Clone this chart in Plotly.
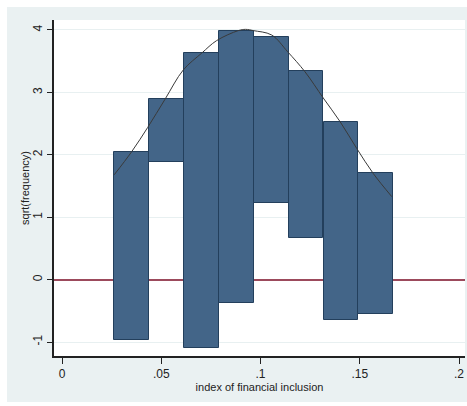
import plotly.graph_objects as go

# Hanging rootogram data
bin_mids = [0.0352, 0.0527, 0.0703, 0.0878, 0.1054, 0.1229, 0.1405, 0.1580]
bin_width = 0.01755
bar_top = [2.05, 2.89, 3.63, 3.99, 3.88, 3.35, 2.53, 1.71]
bar_bottom = [-0.97, 1.89, -1.10, -0.37, 1.22, 0.67, -0.64, -0.55]

curve_x = [0.0263, 0.0351, 0.0432, 0.0519, 0.0611, 0.0704, 0.0779, 0.0888,
           0.0925, 0.0964, 0.1056, 0.1137, 0.1224, 0.1316, 0.1401, 0.1485,
           0.1568, 0.1661]
curve_y = [1.68, 2.05, 2.44, 2.89, 3.36, 3.63, 3.83, 3.99,
           4.01, 3.99, 3.92, 3.65, 3.33, 2.91, 2.53, 2.10,
           1.70, 1.33]

x_ticks = [0, 0.05, 0.1, 0.15, 0.2]
x_labels = ["0", ".05", ".1", ".15", ".2"]
y_ticks = [-1, 0, 1, 2, 3, 4]
y_labels = ["-1", "0", "1", "2", "3", "4"]

fig = go.Figure()
fig.add_trace(go.Bar(
    x=bin_mids,
    y=[t - b for t, b in zip(bar_top, bar_bottom)],
    base=bar_bottom,
    width=bin_width,
    marker=dict(color="#436588", line=dict(color="#233f5c", width=1)),
    showlegend=False,
))
fig.add_trace(go.Scatter(
    x=curve_x, y=curve_y, mode="lines",
    line=dict(color="#3a3a3a", width=1, shape="spline"),
    showlegend=False,
))

W, H = 467, 406
L, R, T, B = 54, 2, 20, 50
PW, PH = W - L - R, H - T - B
fig.update_layout(
    width=W, height=H,
    margin=dict(l=L, r=R, t=T, b=B, autoexpand=False),
    paper_bgcolor="white",
    plot_bgcolor="white",
    font=dict(family="Liberation Sans, Arial, sans-serif", size=11, color="#222"),
    bargap=0,
    shapes=[
        dict(type="rect", xref="paper", yref="paper", layer="below",
             x0=-(L - 7) / PW, x1=1 + (R + 2) / PW,
             y0=-(B - 4) / PH, y1=1 + (T - 7) / PH,
             fillcolor="#eaf1f2", line=dict(width=0)),
        dict(type="rect", xref="paper", yref="paper", layer="below",
             x0=0, x1=1, y0=0, y1=1,
             fillcolor="white", line=dict(width=0)),
    ],
)
fig.update_xaxes(
    range=[-0.00403, 0.2030],
    tickvals=x_ticks, ticktext=x_labels,
    ticks="outside", ticklen=6, tickcolor="#222", tickwidth=1,
    showline=True, linecolor="#222", linewidth=1.5,
    showgrid=False, zeroline=False, automargin=False,
    ticklabeloverflow="allow",
    title=dict(text="index of financial inclusion", standoff=2,
               font=dict(size=11)),
    tickfont=dict(size=12),
)
fig.update_yaxes(
    range=[-1.224, 4.16],
    tickvals=y_ticks, ticktext=y_labels,
    tickangle=-90,
    ticks="outside", ticklen=5, tickcolor="#222", tickwidth=1,
    showline=True, linecolor="#222", linewidth=1.5,
    showgrid=True, gridcolor="#e8f0f1", gridwidth=1,
    zeroline=True, zerolinecolor="#9c4a5c", zerolinewidth=1.5,
    automargin=False,
    title=dict(text="sqrt(frequency)", standoff=0, font=dict(size=11)),
    tickfont=dict(size=12),
)

fig.write_html(
    "out.html",
    config={"displayModeBar": False},
    post_script="document.body.style.margin='0';document.body.style.overflow='hidden';",
)
